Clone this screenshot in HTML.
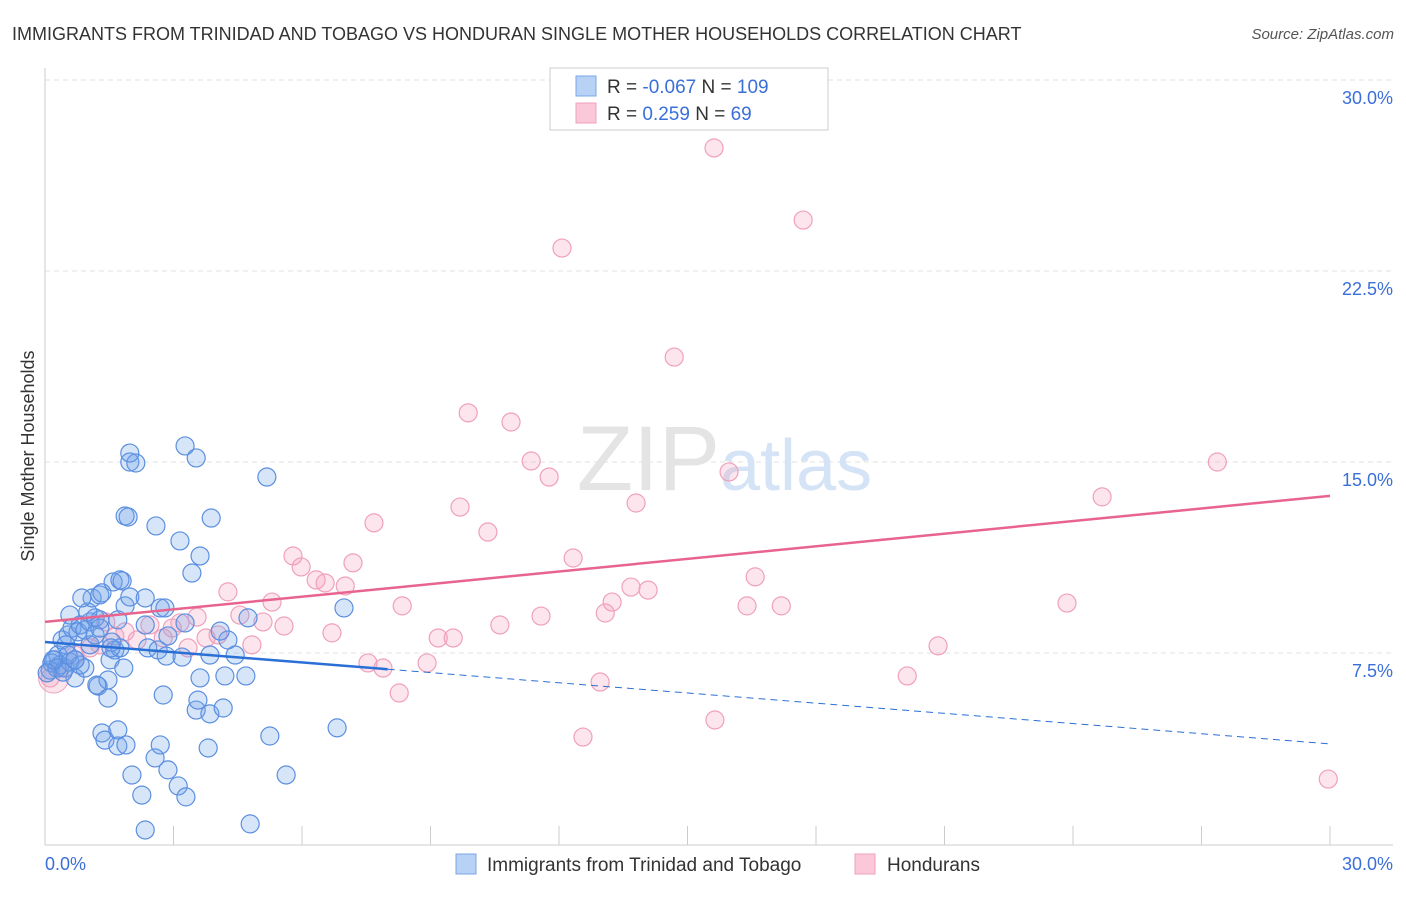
<!DOCTYPE html>
<html><head><meta charset="utf-8">
<style>
body{margin:0;background:#fff;font-family:"Liberation Sans",sans-serif;}
svg text{font-family:"Liberation Sans",sans-serif;}
</style></head>
<body>
<svg width="1406" height="892" xmlns="http://www.w3.org/2000/svg">
<text x="12" y="40" font-size="18" fill="#333">IMMIGRANTS FROM TRINIDAD AND TOBAGO VS HONDURAN SINGLE MOTHER HOUSEHOLDS CORRELATION CHART</text>
<text x="1394" y="39" font-size="15" fill="#555" font-style="italic" text-anchor="end">Source: ZipAtlas.com</text>
<g id="grid"></g>
<text x="720" y="490" font-size="92" fill="#e4e4e4" text-anchor="end" font-family="Liberation Serif">ZIP</text>
<text x="720" y="490" font-size="72" fill="#d4e3f5">atlas</text>
<line x1="45" y1="68" x2="45" y2="845" stroke="#ccc"/>
<line x1="45" y1="845" x2="1393" y2="845" stroke="#ccc"/>
<g id="ticks"></g>
<g id="ylabels"></g>
<text x="45" y="870" font-size="18" fill="#3a6fd8">0.0%</text>
<text x="1393" y="870" font-size="18" fill="#3a6fd8" text-anchor="end">30.0%</text>
<text transform="translate(34,456) rotate(-90)" font-size="18" fill="#333" text-anchor="middle">Single Mother Households</text>
<g id="pink"></g>
<g id="blue"></g>
<g id="trends"></g>
<g>
<rect x="550" y="68" width="278" height="62" fill="#fff" stroke="#ccc"/>
<rect x="576" y="76" width="20" height="20" fill="#b8d2f5" stroke="#7aa7e8"/>
<rect x="576" y="103" width="20" height="20" fill="#fac8d8" stroke="#f0a0bb"/>
<text x="607" y="93" font-size="19" fill="#333">R = <tspan fill="#3a6fd8">-0.067</tspan>   N = <tspan fill="#3a6fd8">109</tspan></text>
<text x="607" y="120" font-size="19" fill="#333">R = <tspan fill="#3a6fd8">  0.259</tspan>   N = <tspan fill="#3a6fd8">  69</tspan></text>
</g>
<g>
<rect x="456" y="854" width="20" height="20" fill="#b8d2f5" stroke="#7aa7e8"/>
<text x="487" y="871" font-size="19" fill="#333">Immigrants from Trinidad and Tobago</text>
<rect x="855" y="854" width="20" height="20" fill="#fac8d8" stroke="#f0a0bb"/>
<text x="887" y="871" font-size="19" fill="#333">Hondurans</text>
</g>
</svg>
<script>
const yTicks=[7.5,15,22.5,30];
const yTickLabels=["7.5%","15.0%","22.5%","30.0%"];
const xTicks=[0,3,6,9,12,15,18,21,24,27,30];
const blueX=[0.23,0.35,0.12,0.30,0.47,0.58,0.70,0.40,0.54,0.63,0.77,0.82,0.93,1.05,1.17,1.28,1.00,1.10,1.28,0.86,0.58,0.49,0.70,0.93,1.24,1.47,1.52,1.63,1.56,1.75,1.84,1.70,1.87,1.59,1.75,1.33,1.98,2.34,2.69,2.80,2.34,2.40,2.64,2.83,2.87,3.27,3.20,3.62,3.85,4.20,4.27,4.44,4.69,4.74,4.09,2.76,1.47,1.21,3.53,3.57,3.85,4.16,1.33,1.40,1.70,1.70,1.89,2.69,2.57,2.87,2.03,3.11,3.29,2.26,2.34,4.79,5.25,5.63,6.82,6.98,3.81,1.98,2.12,1.98,3.27,3.53,5.18,1.87,1.94,2.59,3.15,3.88,3.62,3.43,1.80,0.54,0.16,0.28,0.82,0.42,0.19,0.05,0.70,1.05,1.17,1.28,1.54];
const blueY=[7.23,7.03,6.83,7.42,6.91,7.15,7.23,8.01,8.21,8.48,8.33,8.60,8.40,8.72,8.88,8.80,9.11,9.66,9.78,9.66,8.99,7.82,6.52,6.91,6.20,6.44,7.23,7.62,7.93,7.70,6.91,8.80,9.35,10.29,10.37,9.86,9.70,9.66,9.27,9.27,8.60,7.70,7.62,7.38,8.17,8.68,7.34,6.52,7.42,6.60,8.01,7.42,6.60,8.88,8.36,5.85,5.73,6.24,5.26,5.65,5.11,5.34,4.36,4.08,4.48,3.85,3.89,3.89,3.38,2.91,2.71,2.28,1.85,1.92,0.55,0.79,4.24,2.71,4.56,9.27,3.77,15.0,14.96,15.35,15.63,15.16,14.41,12.88,12.84,12.49,11.90,12.80,11.31,10.64,10.33,7.42,7.11,6.91,7.03,6.75,7.23,6.72,7.23,7.82,8.21,8.48,7.70];
const pinkX=[15.62,17.70,12.07,14.69,9.88,10.88,11.35,11.77,15.97,27.37,24.68,13.80,9.69,7.68,10.34,12.33,5.79,7.19,5.98,6.33,6.54,7.01,16.58,4.27,5.30,4.55,5.09,5.58,8.34,3.55,2.97,2.45,3.15,13.68,14.08,13.24,13.08,11.58,16.39,17.19,23.86,10.62,6.70,9.18,9.53,3.76,4.04,4.83,2.76,2.15,1.63,1.28,1.05,0.70,0.35,0.12,20.85,8.92,7.54,7.89,12.96,20.13,8.27,15.64,12.56,29.96,3.34,1.87,1.42];
const pinkY=[27.33,24.50,23.40,19.12,16.93,16.57,15.04,14.41,14.61,15.00,13.63,13.39,13.23,12.61,12.25,11.23,11.31,11.04,10.88,10.37,10.25,10.13,10.49,9.90,9.50,8.99,8.72,8.56,9.35,8.91,8.48,8.60,8.68,10.09,9.97,9.50,9.07,8.95,9.35,9.35,9.46,8.60,8.29,8.09,8.09,8.09,8.21,7.82,8.09,8.01,8.17,7.82,7.70,7.42,6.91,6.52,7.78,7.11,7.11,6.91,6.36,6.60,5.93,4.87,4.20,2.55,7.70,8.33,8.72];
const blueTrend=[7.93,3.93];
const blueSolidEnd=8.0;
const pinkTrend=[8.72,13.67];

const NS="http://www.w3.org/2000/svg";
const xs=v=>45+v/30*1285;
const ys=v=>844-v/7.5*191;
function mk(tag,attrs,parent){const e=document.createElementNS(NS,tag);for(const k in attrs)e.setAttribute(k,attrs[k]);document.getElementById(parent).appendChild(e);return e;}
yTicks.forEach((t,i)=>{
  const g=mk('line',{x1:45,x2:1393,y1:ys(t),y2:ys(t),stroke:'#e2e2e2','stroke-dasharray':'5,4'},'grid');
  
  
  const l=mk('text',{x:1393,y:ys(t)+24,'font-size':18,fill:'#3a6fd8','text-anchor':'end'},'ylabels');
  l.textContent=yTickLabels[i];
  
  
});
xTicks.forEach(t=>{
  const k=mk('line',{x1:xs(t),x2:xs(t),y1:826,y2:845,stroke:'#ccc'},'ticks');
  
  
});
mk('circle',{cx:xs(0.2),cy:ys(6.52),r:15,fill:'rgba(240,150,180,0.25)',stroke:'#f0a0bb'},'pink');
pinkX.forEach((x,i)=>{
  const c=mk('circle',{cx:xs(x),cy:ys(pinkY[i]),r:9,fill:'rgba(245,160,190,0.28)',stroke:'#f0a0bb','stroke-width':1.2},'pink');
  
  
});
blueX.forEach((x,i)=>{
  const c=mk('circle',{cx:xs(x),cy:ys(blueY[i]),r:9,fill:'rgba(110,160,235,0.28)',stroke:'#5b8fe0','stroke-width':1.2},'blue');
  
  
});
const bAt=x=>blueTrend[0]+(blueTrend[1]-blueTrend[0])*x/30;
const t1=mk('line',{x1:xs(0),y1:ys(bAt(0)),x2:xs(blueSolidEnd),y2:ys(bAt(blueSolidEnd)),stroke:'#2a6fd6','stroke-width':2.5},'trends');


const t2=mk('line',{x1:xs(blueSolidEnd),y1:ys(bAt(blueSolidEnd)),x2:xs(30),y2:ys(bAt(30)),stroke:'#2a6fd6','stroke-width':1,'stroke-dasharray':'7,5'},'trends');


const t3=mk('line',{x1:xs(0),y1:ys(pinkTrend[0]),x2:xs(30),y2:ys(pinkTrend[1]),stroke:'#e8648e','stroke-width':2.5},'trends');


</script>
</body></html>
